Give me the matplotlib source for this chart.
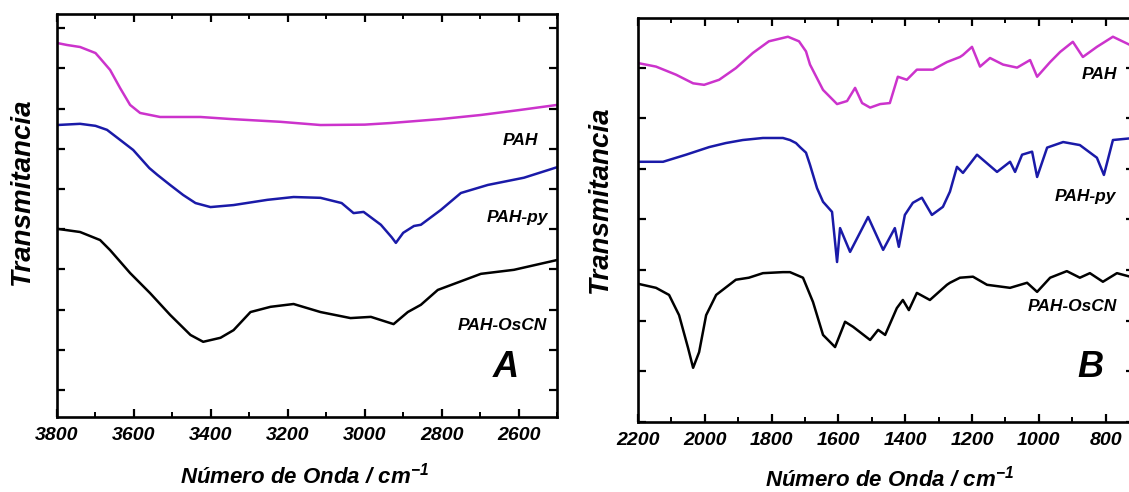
import matplotlib
matplotlib.use("Agg")
import matplotlib.pyplot as plt
from matplotlib.ticker import MultipleLocator
from matplotlib.font_manager import FontProperties

plt.rcParams['font.family'] = ['Liberation Sans', 'DejaVu Sans']
plt.rcParams['mathtext.fontset'] = 'custom'
plt.rcParams['mathtext.rm'] = 'Liberation Sans:bold:italic'
plt.rcParams['mathtext.it'] = 'Liberation Sans:bold:italic'
plt.rcParams['mathtext.bf'] = 'Liberation Sans:bold:italic'

# ---- Panel A: 3800-2500 cm-1 (arbitrary transmittance, offset curves) ----
wn_a_pah = [3800, 3774, 3740, 3700, 3688, 3662, 3636, 3610, 3584, 3532, 3427,
            3350, 3219, 3115, 3000, 2932, 2800, 2698, 2600, 2500]
t_a_pah = [8.63, 8.58, 8.53, 8.38, 8.25, 7.96, 7.51, 7.09, 6.89, 6.79, 6.79,
           6.74, 6.67, 6.59, 6.60, 6.64, 6.74, 6.84, 6.96, 7.09]

wn_a_py = [3800, 3740, 3700, 3670, 3640, 3602, 3560, 3539, 3506, 3472, 3440,
           3401, 3341, 3253, 3185, 3115, 3060, 3029, 3003, 2958, 2930, 2919,
           2900, 2872, 2854, 2802, 2750, 2680, 2586, 2497]
t_a_py = [6.59, 6.62, 6.57, 6.47, 6.25, 5.97, 5.52, 5.35, 5.10, 4.85, 4.65,
          4.55, 4.60, 4.73, 4.80, 4.78, 4.65, 4.40, 4.43, 4.11, 3.80, 3.66,
          3.91, 4.08, 4.11, 4.48, 4.90, 5.10, 5.28, 5.55]

wn_a_os = [3800, 3740, 3688, 3662, 3610, 3558, 3506, 3453, 3420, 3375, 3341,
           3297, 3245, 3185, 3115, 3037, 2984, 2925, 2888, 2854, 2810, 2698,
           2612, 2497]
t_a_os = [4.01, 3.93, 3.73, 3.48, 2.91, 2.41, 1.87, 1.37, 1.20, 1.30, 1.49,
          1.94, 2.07, 2.14, 1.94, 1.79, 1.82, 1.64, 1.94, 2.12, 2.49, 2.89,
          2.99, 3.24]

# ---- Panel B: 2200-715 cm-1 ----
wn_b_pah = [2200, 2146, 2086, 2035, 2002, 1957, 1907, 1856, 1808, 1751, 1718,
            1697, 1685, 1646, 1604, 1574, 1550, 1529, 1505, 1475, 1446, 1422,
            1395, 1365, 1317, 1275, 1236, 1227, 1200, 1176, 1146, 1107, 1065,
            1026, 1005, 966, 936, 898, 868, 826, 778, 715]
t_b_pah = [6.09, 6.02, 5.86, 5.69, 5.66, 5.76, 5.99, 6.29, 6.52, 6.61, 6.52,
           6.32, 6.06, 5.56, 5.28, 5.34, 5.60, 5.30, 5.21, 5.28, 5.30, 5.82,
           5.76, 5.96, 5.96, 6.11, 6.21, 6.25, 6.41, 6.02, 6.19, 6.06, 6.00,
           6.15, 5.82, 6.11, 6.31, 6.51, 6.21, 6.41, 6.61, 6.41]

wn_b_py = [2200, 2125, 2056, 1987, 1937, 1886, 1826, 1766, 1745, 1727, 1715,
           1697, 1685, 1664, 1646, 1619, 1604, 1595, 1565, 1511, 1466, 1431,
           1419, 1401, 1377, 1350, 1320, 1287, 1266, 1245, 1227, 1185, 1125,
           1086, 1071, 1050, 1020, 1005, 975, 927, 877, 826, 805, 778, 715]
t_b_py = [4.14, 4.14, 4.28, 4.43, 4.51, 4.57, 4.61, 4.61, 4.57, 4.51, 4.43,
          4.32, 4.08, 3.62, 3.35, 3.15, 2.16, 2.83, 2.36, 3.05, 2.40, 2.83,
          2.46, 3.09, 3.33, 3.43, 3.09, 3.25, 3.55, 4.04, 3.92, 4.28, 3.94,
          4.14, 3.94, 4.28, 4.34, 3.84, 4.42, 4.53, 4.47, 4.22, 3.88, 4.57,
          4.61]

wn_b_os = [2200, 2146, 2107, 2077, 2050, 2035, 2017, 1996, 1966, 1907, 1868,
           1826, 1766, 1745, 1706, 1676, 1646, 1610, 1580, 1556, 1505, 1481,
           1460, 1425, 1407, 1389, 1365, 1326, 1275, 1266, 1236, 1197, 1155,
           1086, 1035, 1005, 966, 916, 877, 847, 808, 766, 715]
t_b_os = [1.73, 1.65, 1.51, 1.11, 0.46, 0.07, 0.38, 1.11, 1.51, 1.81, 1.85,
          1.94, 1.96, 1.96, 1.85, 1.37, 0.72, 0.48, 0.98, 0.88, 0.62, 0.82,
          0.72, 1.25, 1.41, 1.21, 1.55, 1.41, 1.71, 1.75, 1.85, 1.87, 1.71,
          1.65, 1.75, 1.57, 1.85, 1.98, 1.85, 1.94, 1.77, 1.94, 1.85]

series_names = ['PAH', 'PAH-py', 'PAH-OsCN']
colors = ['#cc33cc', '#1a1aa8', '#000000']

xlabel = 'Número de Onda / cm$^{-1}$'
ylabel = 'Transmitancia'

fig = plt.figure(figsize=(11.29, 4.92), dpi=100)
ax_a = fig.add_axes([0.0505, 0.1524, 0.4429, 0.8191])
ax_b = fig.add_axes([0.5651, 0.1423, 0.4393, 0.8211])

lw = 1.8
for wn, t, c in zip([wn_a_pah, wn_a_py, wn_a_os], [t_a_pah, t_a_py, t_a_os], colors):
    ax_a.plot(wn, t, color=c, lw=lw, solid_joinstyle='round')
for wn, t, c in zip([wn_b_pah, wn_b_py, wn_b_os], [t_b_pah, t_b_py, t_b_os], colors):
    ax_b.plot(wn, t, color=c, lw=lw, solid_joinstyle='round')

ax_a.set_xlim(3800, 2500)
ax_a.set_ylim(-0.67, 9.35)
ax_a.xaxis.set_major_locator(MultipleLocator(200))
ax_a.xaxis.set_minor_locator(MultipleLocator(100))
ax_a.yaxis.set_major_locator(MultipleLocator(1))

ax_b.set_xlim(2200, 715)
ax_b.set_ylim(-1.0, 6.98)
ax_b.xaxis.set_major_locator(MultipleLocator(200))
ax_b.xaxis.set_minor_locator(MultipleLocator(100))
ax_b.yaxis.set_major_locator(MultipleLocator(1))

tick_font = FontProperties(family='Liberation Sans', weight='bold', style='italic', size=14)
for ax in (ax_a, ax_b):
    for s in ax.spines.values():
        s.set_linewidth(1.9)
    ax.tick_params(axis='both', which='major', direction='in', length=6, width=1.6,
                   top=True, right=True, pad=7)
    ax.tick_params(axis='x', which='minor', direction='in', length=3.5, width=1.4,
                   top=True)
    ax.tick_params(axis='y', which='minor', left=False, right=False)
    ax.tick_params(axis='y', labelleft=False)
    for lab in ax.get_xticklabels():
        lab.set_fontproperties(tick_font)

lab_font = dict(weight='bold', style='italic', size=12.5)
# Panel A curve labels
ax_a.text(0.962, 0.687, series_names[0], transform=ax_a.transAxes, ha='right', va='center', **lab_font)
ax_a.text(0.982, 0.494, series_names[1], transform=ax_a.transAxes, ha='right', va='center', **lab_font)
ax_a.text(0.980, 0.228, series_names[2], transform=ax_a.transAxes, ha='right', va='center', **lab_font)
ax_a.text(0.924, 0.122, 'A', transform=ax_a.transAxes, ha='right', va='center',
          weight='bold', style='italic', size=26)
# Panel B curve labels
ax_b.text(0.895, 0.859, series_names[0], transform=ax_b.transAxes, ha='left', va='center', **lab_font)
ax_b.text(0.841, 0.557, series_names[1], transform=ax_b.transAxes, ha='left', va='center', **lab_font)
ax_b.text(0.786, 0.285, series_names[2], transform=ax_b.transAxes, ha='left', va='center', **lab_font)
ax_b.text(0.885, 0.134, 'B', transform=ax_b.transAxes, ha='left', va='center',
          weight='bold', style='italic', size=26)

axis_font = dict(weight='bold', style='italic')
fig.text(305 / 1129, 1 - 476 / 492, xlabel, ha='center', va='center', size=16, **axis_font)
fig.text(890 / 1129, 1 - 479 / 492, xlabel, ha='center', va='center', size=16, **axis_font)
fig.text(22 / 1129, 1 - 192 / 492, ylabel, ha='center', va='center', rotation=90, size=20, **axis_font)
fig.text(600 / 1129, 1 - 200 / 492, ylabel, ha='center', va='center', rotation=90, size=20, **axis_font)

fig.savefig('out.png', dpi=100)
